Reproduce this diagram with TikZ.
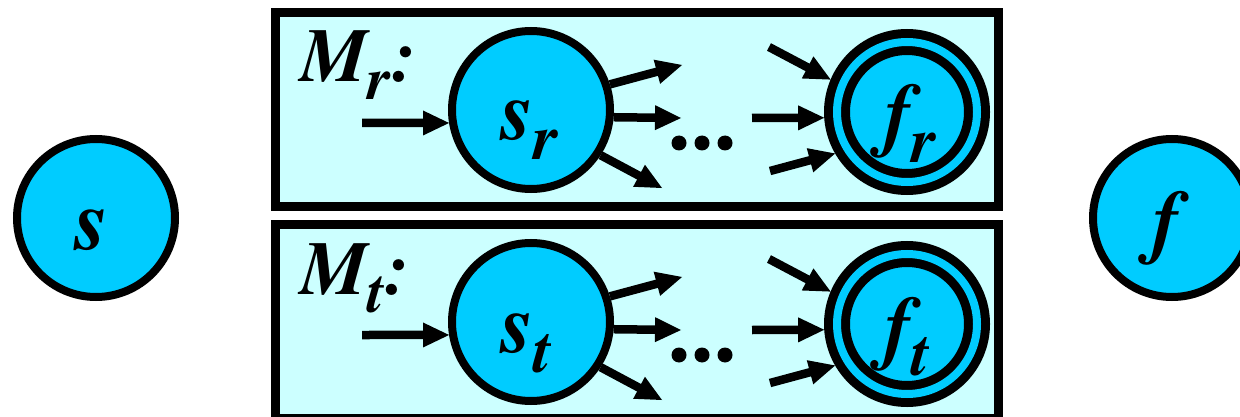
\documentclass[tikz,border=0pt]{standalone}
\usepackage[T1]{fontenc}
\usepackage{times}
\definecolor{boxfill}{HTML}{CCFFFF}
\definecolor{statefill}{HTML}{00CCFF}
\tikzset{
 statenode/.style={circle, draw=black, fill=statefill, line width=8pt, minimum size=158pt, inner sep=0pt},
 finalnode/.style={circle, draw=black, fill=statefill, line width=9pt, double=statefill, double distance=8pt, minimum size=140pt, inner sep=0pt, outer sep=13pt},
 machinebox/.style={draw=black, fill=boxfill, line width=9pt, minimum width=723pt, minimum height=193.5pt, inner sep=0pt},
 trans/.style={line width=8.5pt, shorten >=20pt},
 headnode/.style={sloped, pos=1, anchor=east, inner sep=0pt, outer sep=0pt},
 bigtxt/.style={inner sep=0pt},
 dotnode/.style={circle, fill=black, minimum size=15pt, inner sep=0pt},
}
\newcommand\headtri{\tikz\fill[black] (0pt,0pt) -- (-26pt,12.5pt) -- (-26pt,-12.5pt) -- cycle;}
\newcommand\bit[1]{\fontsize{#1}{#1}\rmfamily\bfseries\itshape\selectfont}
\begin{document}
\begin{tikzpicture}[x=1pt,y=-1pt]
\clip (0,0) rectangle (1240,417);
\fill[white] (0,0) rectangle (1240,417);
\node[statenode] (s) at (96,218) {};
\node[bigtxt] (slab) at (92.5,230) {\bit{86}s};
\node[statenode] (f) at (1172,218) {};
\node[bigtxt] (flab) at (1166,229) {\bit{82}f};
\foreach \n/\dy in {r/0,t/212}{
\begin{scope}[shift={(0,\dy)}]
\node[machinebox] (box\n) at (636.5,109.25) {};
\node[statenode] (s\n) at (531,110) {};
\node[finalnode] (f\n) at (907,112) {};
\node[bigtxt, anchor=base west] (m\n) at (300,82) {\bit{76}M\raisebox{-18pt}{\bit{60}\n}:};
\node[bigtxt, anchor=base west] (sl\n) at (501,140) {\bit{84}s\raisebox{-20pt}{\bit{64}\n}};
\node[bigtxt, anchor=base west] (fl\n) at (884,142) {\bit{82}f\raisebox{-21pt}{\bit{64}\n}};
\coordinate (in\n) at (362,123);
\draw[trans] (in\n) -- (s\n.189) node[headnode] {\headtri};
\coordinate (oa\n) at (682,65);
\coordinate (ob\n) at (681,118);
\coordinate (oc\n) at (662,188);
\draw[trans] (s\n.18) -- (oa\n) node[headnode] {\headtri};
\draw[trans] (s\n.-5.5) -- (ob\n) node[headnode] {\headtri};
\draw[trans] (s\n.-33) -- (oc\n) node[headnode] {\headtri};
\node[dotnode] (da\n) at (679,143) {};
\node[dotnode] (db\n) at (702,143) {};
\node[dotnode] (dc\n) at (725,143) {};
\coordinate (ia\n) at (769,47);
\coordinate (ib\n) at (752,118);
\coordinate (ic\n) at (770,171);
\draw[trans] (ia\n) -- (f\n.157) node[headnode] {\headtri};
\draw[trans] (ib\n) -- (f\n.184) node[headnode] {\headtri};
\draw[trans] (ic\n) -- (f\n.210) node[headnode] {\headtri};
\end{scope}
}
\end{tikzpicture}
\end{document}
